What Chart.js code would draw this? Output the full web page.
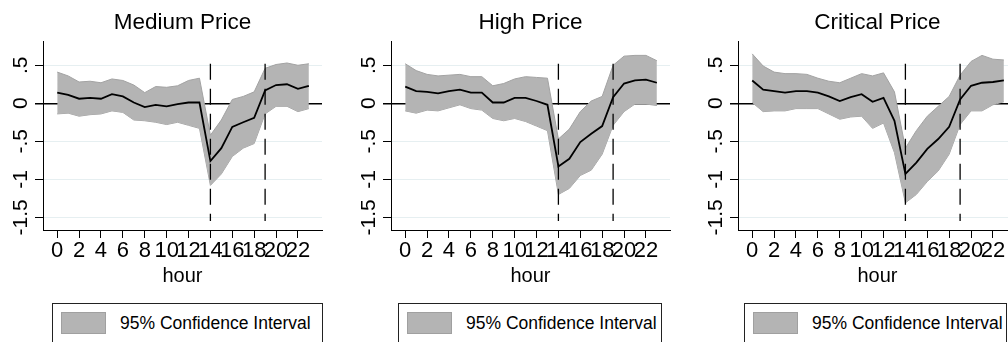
<!DOCTYPE html>
<html>
<head>
<meta charset="utf-8">
<script src="https://cdn.jsdelivr.net/npm/chart.js@4.4.1/dist/chart.umd.min.js"></script>
<style>
  body { margin:0; width:1008px; height:342px; overflow:hidden; background:#fff; position:relative;
         font-family:"Liberation Sans", Arial, sans-serif; }
  .panel { position:absolute; top:0; width:347px; height:342px; }
  .panel canvas { position:absolute; left:0; top:0; }
  .leg { position:absolute; top:303px; height:60px; border:1px solid #222;
         box-sizing:border-box; background:#fff; }
  .leg .sw { position:absolute; left:8px; top:8px; width:45px; height:22px; box-sizing:border-box;
             background:#b4b4b4; border:1px solid #a0a0a0; }
  .leg .tx { position:absolute; left:67px; top:8px; height:22px; line-height:22px; font-size:17.5px; color:#000;
             white-space:nowrap; }
</style>
</head>
<body>
<div class="panel" id="p0" style="left:0px"><canvas id="c0" width="347" height="342"></canvas></div>
<div class="panel" id="p1" style="left:348px"><canvas id="c1" width="347" height="342"></canvas></div>
<div class="panel" id="p2" style="left:695px"><canvas id="c2" width="347" height="342"></canvas></div>

<script>
// --- data ---
const hours = [0,1,2,3,4,5,6,7,8,9,10,11,12,13,14,15,16,17,18,19,20,21,22,23];
const tickHours = [0,2,4,6,8,10,12,14,16,18,20,22];
const yTicks = [-1.5,-1,-0.5,0,0.5];
const yTickLabels = ['-1.5','-1','-.5','0','.5'];
const titles = ['Medium Price','High Price','Critical Price'];
const legendText = '95% Confidence Interval';
const cutHours = [14, 19];       // dashed vertical lines
const cutSpan = [0.52, -1.55];   // their extent in y units

const medEst  = [0.14,0.11,0.06,0.07,0.06,0.12,0.09,0.01,-0.05,-0.02,-0.04,-0.01,0.01,0.01,-0.76,-0.59,-0.31,-0.25,-0.19,0.17,0.24,0.25,0.19,0.23];
const medHi   = [0.41,0.36,0.28,0.29,0.27,0.32,0.30,0.24,0.14,0.22,0.21,0.23,0.30,0.33,-0.42,-0.22,0.05,0.09,0.15,0.46,0.51,0.53,0.50,0.52];
const medLo   = [-0.14,-0.13,-0.17,-0.15,-0.14,-0.10,-0.12,-0.22,-0.23,-0.25,-0.28,-0.25,-0.29,-0.33,-1.08,-0.93,-0.70,-0.59,-0.53,-0.14,-0.04,-0.04,-0.11,-0.07];

const highEst = [0.22,0.16,0.15,0.13,0.16,0.18,0.14,0.14,0.01,0.01,0.07,0.07,0.03,-0.02,-0.83,-0.73,-0.51,-0.40,-0.30,0.08,0.26,0.30,0.31,0.27];
const highHi  = [0.52,0.43,0.38,0.36,0.37,0.38,0.35,0.35,0.23,0.26,0.32,0.35,0.34,0.33,-0.47,-0.34,-0.11,0.03,0.09,0.50,0.62,0.63,0.63,0.56];
const highLo  = [-0.10,-0.13,-0.09,-0.10,-0.06,-0.02,-0.07,-0.09,-0.20,-0.23,-0.20,-0.24,-0.30,-0.36,-1.20,-1.12,-0.95,-0.88,-0.67,-0.29,-0.11,-0.01,-0.01,-0.03];

const critEst = [0.30,0.18,0.16,0.14,0.16,0.16,0.14,0.09,0.03,0.08,0.12,0.02,0.07,-0.23,-0.93,-0.78,-0.60,-0.47,-0.31,0.05,0.23,0.27,0.28,0.30];
const critHi  = [0.65,0.49,0.41,0.39,0.39,0.38,0.33,0.29,0.27,0.33,0.39,0.36,0.40,0.15,-0.59,-0.36,-0.17,-0.04,0.09,0.37,0.55,0.63,0.58,0.57];
const critLo  = [0.01,-0.11,-0.10,-0.10,-0.07,-0.07,-0.07,-0.14,-0.21,-0.18,-0.17,-0.33,-0.26,-0.65,-1.31,-1.20,-1.03,-0.89,-0.67,-0.28,-0.10,-0.10,-0.02,0.02];

const panels = [
  { est: medEst,  hi: medHi,  lo: medLo,  legLeft: 52, legW: 271 },
  { est: highEst, hi: highHi, lo: highLo, legLeft: 50, legW: 264 },
  { est: critEst, hi: critHi, lo: critLo, legLeft: 49, legW: 263 },
];

const FONT = '"Liberation Sans", Arial, sans-serif';
const pts = arr => hours.map((h, i) => ({ x: h, y: arr[i] }));

// rotated y tick labels, Stata style (read bottom to top)
const yLabels = {
  id: 'yLabels',
  afterDraw(chart) {
    const s = chart.scales.y, ctx = chart.ctx;
    ctx.save();
    ctx.font = '21px ' + FONT;
    ctx.fillStyle = '#000';
    ctx.textAlign = 'center';
    ctx.textBaseline = 'middle';
    yTicks.forEach((v, i) => {
      const py = s.getPixelForValue(v);
      ctx.save();
      ctx.translate(s.right - 22, py);
      ctx.rotate(-Math.PI / 2);
      ctx.fillText(yTickLabels[i], 0, 0);
      ctx.restore();
    });
    ctx.restore();
  }
};

function makeChart(idx) {
  const p = panels[idx];
  const cuts = cutHours.map(h => ({
    data: [{ x: h, y: cutSpan[0] }, { x: h, y: cutSpan[1] }],
    borderColor: '#000', borderWidth: 1.3, borderDash: [16, 9],
    pointRadius: 0, fill: false
  }));
  new Chart(document.getElementById('c' + idx), {
    type: 'line',
    data: {
      datasets: [
        { data: pts(p.est), borderColor: '#000', borderWidth: 1.8, pointRadius: 0, fill: false, tension: 0 },
        ...cuts,
        { data: pts(p.hi), borderColor: '#a2a2a2', borderWidth: 1, pointRadius: 0,
          fill: '+1', backgroundColor: '#b4b4b4', tension: 0 },
        { data: pts(p.lo), borderColor: '#a2a2a2', borderWidth: 1, pointRadius: 0, fill: false, tension: 0 }
      ]
    },
    options: {
      responsive: false,
      animation: false,
      devicePixelRatio: 1,
      layout: { padding: { left: 0, right: 25, top: 0, bottom: 54 } },
      plugins: {
        legend: { display: false },
        tooltip: { enabled: false },
        title: {
          display: true, text: titles[idx], fullSize: false, color: '#000',
          font: { size: 22.5, family: FONT, weight: 'normal' },
          padding: { top: 9, bottom: 5.7 }
        }
      },
      scales: {
        x: {
          type: 'linear', min: -1.3, max: 24.2,
          afterBuildTicks: s => { s.ticks = tickHours.map(v => ({ value: v })); },
          afterFit: s => { s.height = 58; },
          grid: { drawOnChartArea: false, drawTicks: true, tickLength: 8, color: '#000', tickColor: '#000' },
          border: { display: true, color: '#000', width: 1 },
          ticks: { autoSkip: false, maxRotation: 0, padding: 0, color: '#000',
                   font: { size: 22, family: FONT }, callback: v => String(v) },
          title: { display: true, text: 'hour', color: '#000', padding: 0,
                   font: { size: 20, family: FONT } }
        },
        y: {
          type: 'linear', min: -1.667, max: 0.81,
          afterBuildTicks: s => { s.ticks = yTicks.map(v => ({ value: v })); },
          afterFit: s => { s.width = 43; },
          grid: {
            drawTicks: true, tickLength: 8, tickColor: '#000',
            color: c => (c.tick && c.tick.value === 0) ? '#000' : '#e6eff1',
            lineWidth: c => (c.tick && c.tick.value === 0) ? 1.5 : 1
          },
          border: { display: true, color: '#000', width: 1 },
          ticks: { display: false }
        }
      }
    },
    plugins: [yLabels]
  });

  // legend box (HTML text)
  const leg = document.createElement('div');
  leg.className = 'leg';
  leg.style.left = p.legLeft + 'px';
  leg.style.width = p.legW + 'px';
  leg.innerHTML = '<div class="sw"></div><div class="tx"></div>';
  leg.querySelector('.tx').textContent = legendText;
  document.getElementById('p' + idx).appendChild(leg);
}

[0, 1, 2].forEach(makeChart);
</script>
</body>
</html>
